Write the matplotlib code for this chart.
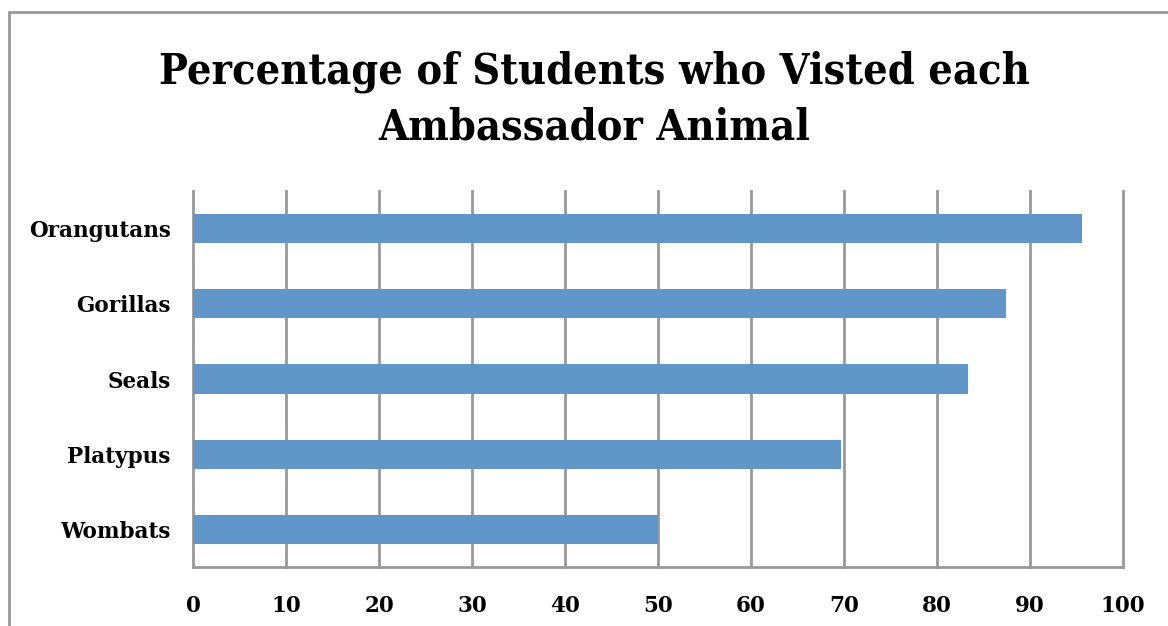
import matplotlib
matplotlib.use('Agg')
import matplotlib.pyplot as plt
from matplotlib.patches import Rectangle

animals = ['Wombats', 'Platypus', 'Seals', 'Gorillas', 'Orangutans']
percent = [50.0, 69.7, 83.3, 87.4, 95.6]
xticks = [0, 10, 20, 30, 40, 50, 60, 70, 80, 90, 100]

bar_color = '#6096C8'
grid_color = '#999999'
font = 'DejaVu Serif'

fig = plt.figure(figsize=(11.68, 6.26), dpi=100)
ax = fig.add_axes([193 / 1168, 1 - 567 / 626, (1123 - 193) / 1168, (567 - 191) / 626])

ax.barh(range(len(animals)), percent, height=0.39, color=bar_color, zorder=3)
ax.set_xlim(0, 100)
ax.set_ylim(-0.5, len(animals) - 0.5)
ax.set_xticks(xticks)
ax.set_yticks(range(len(animals)))
ax.set_yticklabels(animals, fontfamily=font, fontweight='bold', fontsize=15.5)
ax.set_xticklabels([str(t) for t in xticks], fontfamily=font, fontweight='bold', fontsize=15.5)
ax.tick_params(axis='both', length=0)
ax.tick_params(axis='x', pad=20)
ax.tick_params(axis='y', pad=16)

ax.grid(axis='x', color=grid_color, linewidth=2, zorder=1)
for line in ax.get_xgridlines():
    line.set_clip_on(False)
for side in ['top', 'right', 'left']:
    ax.spines[side].set_visible(False)
ax.spines['bottom'].set_color(grid_color)
ax.spines['bottom'].set_linewidth(2)

fig.text(0.509, 1 - 72 / 626, 'Percentage of Students who Visted each',
         ha='center', va='center', fontfamily=font, fontweight='bold',
         fontstretch='condensed', fontsize=31)
fig.text(0.509, 1 - 127 / 626, 'Ambassador Animal',
         ha='center', va='center', fontfamily=font, fontweight='bold',
         fontstretch='condensed', fontsize=31)

# outer chart border (left and top visible, rest runs off the image)
fig.patches.append(Rectangle((9 / 1168, -0.1), 1.2, 1 - 12 / 626 + 0.1,
                             transform=fig.transFigure, fill=False,
                             edgecolor=grid_color, linewidth=2))

fig.savefig('out.png', dpi=100)
